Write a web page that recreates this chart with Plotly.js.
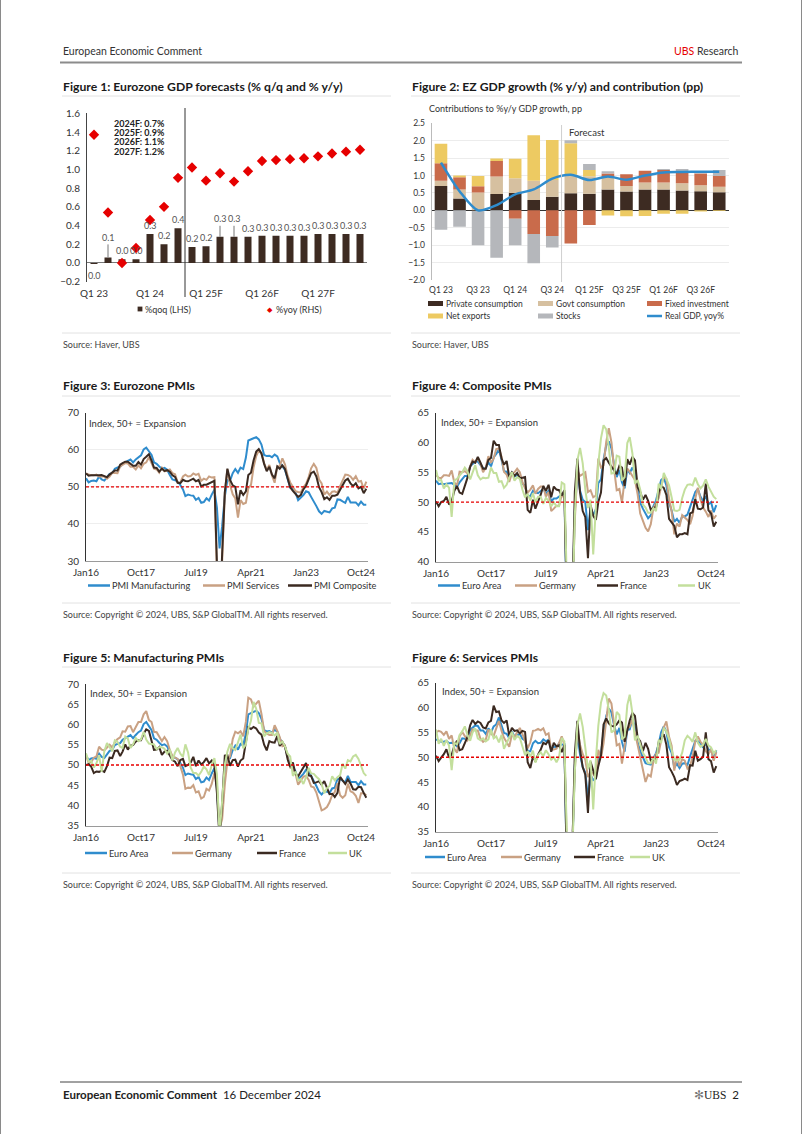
<!DOCTYPE html>
<html><head><meta charset="utf-8">
<script src="https://cdn.plot.ly/plotly-3.0.1.min.js"></script>
<style>html,body{margin:0;padding:0;background:#fff;}#page{width:802px;height:1134px;}</style>
</head><body><div id="page"></div>
<script>
// ================= DATA =================
// Figure 1
const gdpQuarters = ['Q1 23','Q2 23','Q3 23','Q4 23','Q1 24','Q2 24','Q3 24','Q4 24F','Q1 25F','Q2 25F','Q3 25F','Q4 25F','Q1 26F','Q2 26F','Q3 26F','Q4 26F','Q1 27F','Q2 27F','Q3 27F','Q4 27F'];
const gdpQoQ = [-0.01,0.06,0.04,0.04,0.31,0.20,0.37,0.17,0.18,0.28,0.28,0.28,0.29,0.29,0.29,0.29,0.31,0.31,0.31,0.31];
const gdpYoY = [1.37,0.54,0.00,0.16,0.46,0.60,0.91,1.02,0.88,0.96,0.87,0.98,1.09,1.10,1.11,1.12,1.14,1.17,1.19,1.21];
const gdpTicks = ['Q1 23','Q1 24','Q1 25F','Q1 26F','Q1 27F'];
const annualForecasts = ['2024F: 0.7%','2025F: 0.9%','2026F: 1.1%','2027F: 1.2%'];

// Figure 2
const contribQuarters = ['Q1 23','Q2 23','Q3 23','Q4 23','Q1 24','Q2 24','Q3 24','Q4 24','Q1 25F','Q2 25F','Q3 25F','Q4 25F','Q1 26F','Q2 26F','Q3 26F','Q4 26F'];
const contribTicks = ['Q1 23','Q3 23','Q1 24','Q3 24','Q1 25F','Q3 25F','Q1 26F','Q3 26F'];
const privCons = [0.70,0.34,-0.02,0.47,0.50,0.30,0.39,0.49,0.48,0.60,0.54,0.60,0.60,0.57,0.55,0.52];
const govtCons = [0.15,0.26,0.51,0.50,0.42,0.55,0.48,0.53,0.50,0.34,0.16,0.20,0.20,0.21,0.17,0.16];
const fixedInv = [0.50,0.35,0.18,0.45,-0.24,-0.68,-0.74,-0.95,-0.42,0.12,0.34,0.34,0.36,0.33,0.34,0.31];
const netExports = [0.56,0.05,0.30,0.07,0.56,1.31,1.15,0.91,0.18,-0.15,-0.17,-0.16,-0.10,-0.10,-0.03,-0.02];
const stocks = [-0.56,-0.47,-0.98,-1.36,-0.76,-0.84,-0.33,0.08,0.17,0.06,0.00,0.00,0.03,0.08,0.06,0.17];
const realGdpYoY = [1.37,0.55,0.00,0.15,0.46,0.60,0.91,1.02,0.87,0.97,0.88,1.00,1.09,1.10,1.11,1.11];

// PMIs (monthly, Jan 2016 - Dec 2024)
const pmiTickVals = ['2016-01-01','2017-10-01','2019-07-01','2021-04-01','2023-01-01','2024-10-01'];
const pmiTickText = ['Jan16','Oct17','Jul19','Apr21','Jan23','Oct24'];

const ezMfg = [52.3,51.2,51.6,51.7,51.5,52.8,52.0,51.7,52.6,53.5,53.7,54.9,
 55.2,55.4,56.2,56.7,57.0,57.4,56.6,57.4,58.1,58.5,60.1,60.6,
 59.6,58.6,56.6,56.2,55.5,54.9,55.1,54.6,53.2,52.0,51.8,51.4,
 50.5,49.3,47.5,47.9,47.7,47.6,46.5,47.0,45.7,45.9,46.9,46.3,
 47.9,49.2,44.5,33.4,39.4,47.4,51.8,51.7,53.7,54.8,53.8,55.2,
 54.8,57.9,62.5,62.9,63.1,63.4,62.8,61.4,58.6,58.3,58.4,58.0,
 58.7,58.2,56.5,55.5,54.6,52.1,49.8,49.6,48.4,46.4,47.1,47.8,
 48.8,48.5,47.3,45.8,44.8,43.4,42.7,43.5,43.4,43.1,44.2,44.4,
 46.6,46.5,46.1,45.7,47.3,45.8,45.8,45.8,45.0,46.0,45.2,45.2];
const ezServ = [53.6,53.3,53.1,53.1,53.3,52.8,52.9,52.8,52.2,52.8,53.8,53.7,
 53.7,55.5,56.0,56.4,56.3,55.4,55.4,54.7,55.8,55.0,56.2,56.6,
 58.0,56.2,54.9,54.7,53.8,55.2,54.2,54.4,54.7,53.7,53.4,51.2,
 51.2,52.8,53.3,52.8,52.9,53.6,53.2,53.5,51.6,52.2,51.9,52.8,
 52.5,52.6,26.4,12.0,30.5,48.3,54.7,50.5,48.0,46.9,41.7,46.4,
 45.4,45.7,49.6,50.5,55.2,58.3,59.8,59.0,56.4,54.6,55.9,53.1,
 51.1,55.5,55.6,57.7,56.1,53.0,51.2,49.8,48.8,48.6,48.5,49.8,
 50.8,52.7,55.0,56.2,55.1,52.0,50.9,47.9,48.7,47.8,48.7,48.8,
 48.4,50.2,51.5,53.3,53.2,52.8,51.9,52.9,51.4,51.6,49.5,51.4];
const ezComp = [53.6,53.0,53.1,53.0,53.1,53.1,53.2,52.9,52.6,53.3,53.9,54.4,
 54.4,56.0,56.4,56.8,56.8,56.3,55.7,55.7,56.7,56.0,57.5,58.1,
 58.8,57.1,55.2,55.1,54.1,54.9,54.3,54.5,54.1,53.1,52.7,51.1,
 51.0,51.9,51.6,51.5,51.8,52.2,51.5,51.9,50.1,50.6,50.6,50.9,
 51.3,51.6,29.7,13.6,31.9,48.5,54.9,51.9,50.4,50.0,45.3,49.1,
 47.8,48.8,53.2,53.8,57.1,59.5,60.2,59.0,56.2,54.2,55.4,53.3,
 52.3,55.5,54.9,55.8,54.8,52.0,49.9,48.9,48.1,47.3,47.8,49.3,
 50.3,52.0,53.7,54.1,52.8,49.9,48.6,46.7,47.2,46.5,47.6,47.6,
 47.9,49.2,50.3,51.7,52.2,50.9,50.2,51.0,49.6,50.0,48.3,49.5];
const deComp = [54.5,54.1,54.0,54.5,54.5,54.4,55.3,53.3,52.8,55.1,55.0,55.2,
 54.8,56.1,57.1,56.7,57.4,56.4,55.0,55.8,57.7,56.6,57.3,58.9,
 59.0,57.6,55.1,54.6,53.4,54.8,55.0,55.6,55.0,53.4,52.3,51.6,
 52.1,52.8,51.4,52.2,52.6,52.6,50.9,51.7,48.5,48.9,49.4,49.4,
 51.2,50.7,35.0,17.4,32.3,47.0,55.3,54.4,54.7,55.0,51.7,52.0,
 50.8,51.1,57.3,55.8,56.2,60.1,62.4,60.0,55.5,52.0,52.2,49.9,
 53.8,55.6,55.1,54.3,53.7,51.3,48.1,46.9,45.7,45.1,46.3,49.0,
 49.9,50.7,52.6,54.2,53.9,50.6,48.5,44.6,46.4,45.9,47.8,47.4,
 47.0,46.3,47.7,50.6,52.4,50.4,49.1,48.4,47.5,48.6,47.2,47.8];
const frComp = [50.1,49.3,50.0,50.2,50.9,49.6,50.1,51.9,52.7,51.6,51.4,52.7,
 54.1,55.9,56.8,56.6,57.6,56.6,55.6,55.6,57.1,57.4,60.3,59.6,
 59.6,57.3,56.3,56.9,54.2,55.0,54.4,54.9,54.0,54.1,54.2,48.7,
 48.2,50.4,48.9,50.1,51.2,52.7,51.9,52.9,50.8,52.6,52.1,52.0,
 51.1,52.0,28.9,11.1,32.1,51.7,57.3,51.6,48.5,47.5,40.6,49.5,
 47.7,47.0,50.0,51.6,57.0,57.4,56.6,55.9,55.3,54.7,56.1,55.8,
 52.7,57.2,56.3,57.6,57.0,52.5,51.7,50.4,51.2,50.2,48.7,49.1,
 49.1,51.7,52.7,52.4,51.2,47.2,46.6,46.0,44.1,44.6,44.6,44.8,
 44.6,48.1,48.3,50.5,48.9,48.8,49.1,53.1,48.6,48.1,45.9,46.7];
const ukComp = [55.4,53.6,53.7,52.3,53.0,52.4,47.5,53.6,53.9,54.4,55.0,55.8,
 55.2,53.8,54.9,56.2,54.5,53.8,54.1,54.0,54.1,55.8,54.9,54.9,
 53.4,53.5,52.4,52.9,54.1,55.0,53.6,54.2,53.9,52.1,50.8,51.4,
 50.3,51.5,50.0,50.9,50.9,49.7,50.7,50.2,49.3,50.0,49.3,49.3,
 53.3,53.0,36.0,13.8,30.0,47.7,57.0,59.1,56.5,52.1,49.0,50.4,
 41.2,49.6,56.4,60.7,62.9,62.2,59.2,54.8,54.9,57.8,57.6,53.6,
 54.2,59.9,60.9,58.2,53.1,53.7,52.1,49.6,49.1,48.2,48.2,49.0,
 48.5,53.1,52.2,54.9,54.0,52.8,50.8,48.6,48.5,48.7,50.7,52.1,
 52.9,53.0,52.8,54.1,53.0,52.3,52.8,53.8,52.6,51.8,50.9,50.5];
const deMfg = [52.3,50.5,50.7,51.8,52.1,54.5,53.8,53.6,54.3,55.0,54.3,55.6,
 56.4,56.8,58.3,58.2,59.5,59.6,58.1,59.3,60.6,60.6,62.5,63.3,
 61.1,60.6,58.2,58.1,56.9,55.9,56.9,55.9,53.7,52.2,51.8,51.5,
 49.7,47.6,44.1,44.4,44.3,45.0,43.2,43.5,41.7,42.1,44.1,43.7,
 45.3,48.0,45.4,34.5,36.6,45.2,51.0,52.2,56.4,58.2,57.8,58.3,
 57.1,60.7,66.6,66.2,64.4,65.1,65.9,62.6,58.4,57.8,57.4,57.4,
 59.8,58.4,56.9,54.6,54.8,52.0,49.3,49.1,47.8,45.1,46.2,47.1,
 47.3,46.3,44.7,44.5,43.2,40.6,38.8,39.1,39.6,40.8,42.6,43.3,
 45.5,42.5,41.9,42.5,45.4,43.5,43.2,42.4,40.6,43.0,43.0,42.5];
const frMfg = [50.0,50.2,49.6,48.0,48.4,48.3,48.6,48.3,49.7,51.8,51.7,53.5,
 53.6,52.2,53.3,55.1,53.8,54.8,54.9,55.8,56.1,56.1,57.7,58.8,
 58.4,55.9,53.7,53.8,54.4,52.5,53.3,53.5,52.5,51.2,50.8,49.7,
 51.2,51.5,49.7,50.0,50.6,52.0,49.7,51.1,50.1,50.7,51.7,50.4,
 51.1,49.8,43.2,31.5,40.6,52.3,52.4,49.8,51.2,51.3,49.6,51.1,
 51.6,56.1,59.3,58.9,59.4,59.0,58.0,57.5,55.0,53.6,55.9,55.6,
 55.5,57.2,54.7,55.7,54.6,51.4,49.5,50.6,47.7,47.2,48.3,49.2,
 50.5,47.4,47.3,45.6,45.7,46.0,45.1,46.0,44.2,42.8,42.9,42.1,
 43.1,47.1,46.2,45.3,46.4,45.4,44.0,43.9,44.6,44.5,43.1,41.9];
const ukMfg = [52.9,50.8,51.0,49.4,50.4,52.4,48.3,53.4,55.4,54.3,53.4,56.1,
 55.7,54.5,54.2,57.0,56.5,54.2,55.1,56.7,55.9,56.3,58.2,56.3,
 55.3,55.2,55.1,53.9,54.4,54.4,54.0,52.8,53.8,51.1,53.1,54.2,
 52.8,52.0,55.1,53.1,49.4,48.0,48.0,47.4,48.3,49.6,48.9,47.5,
 50.0,51.7,47.8,32.6,40.7,50.1,53.3,55.2,54.1,53.7,55.6,57.5,
 54.1,55.1,58.9,60.9,65.6,63.9,60.4,60.3,57.1,57.8,58.1,57.9,
 57.3,58.0,55.2,55.8,54.6,52.8,52.1,47.3,48.4,46.2,46.5,45.3,
 47.0,49.3,47.9,47.8,47.1,46.5,45.3,43.0,44.3,44.8,47.2,46.2,
 47.0,47.5,50.3,49.1,51.2,50.9,52.1,52.5,51.5,49.9,48.0,47.3];
const deServ = [55.0,55.3,55.1,54.5,55.2,53.7,54.4,51.7,50.9,54.2,55.1,54.3,
 53.4,54.4,55.6,55.4,55.4,53.7,53.1,53.5,55.6,54.7,54.3,55.8,
 57.3,55.3,53.9,53.0,52.1,54.5,54.1,55.0,55.9,54.7,53.3,51.8,
 53.0,55.3,55.4,55.7,55.4,55.8,54.5,54.8,51.4,51.6,51.7,52.9,
 54.2,52.5,31.7,16.2,32.6,47.3,55.6,52.5,50.6,49.5,46.0,47.0,
 46.7,45.7,51.5,49.9,52.8,57.5,61.8,60.8,56.2,52.4,52.7,48.7,
 52.2,55.8,56.1,57.6,55.0,52.4,49.7,47.7,45.0,46.5,46.1,49.2,
 50.7,50.9,53.7,56.0,57.2,54.1,52.3,47.3,50.3,48.2,49.6,49.3,
 47.7,48.3,50.1,53.2,54.2,53.1,52.5,51.2,50.6,51.6,49.3,51.0];
const frServ = [50.3,49.2,49.9,50.6,51.6,49.9,50.5,52.3,53.3,51.4,51.6,52.9,
 54.1,56.4,57.5,56.7,57.2,56.9,56.0,55.8,57.0,57.3,60.4,59.1,
 59.2,57.4,56.9,57.4,54.3,55.9,55.3,55.4,54.8,55.3,55.1,49.0,
 47.8,50.2,49.1,50.5,51.5,52.9,52.6,53.4,51.1,52.9,52.2,52.4,
 51.0,52.5,27.4,10.2,31.1,50.7,57.3,51.5,48.0,46.5,38.8,49.1,
 47.3,45.6,48.2,50.3,56.6,57.8,56.8,56.3,56.2,56.6,57.4,57.0,
 53.1,55.5,57.4,58.9,58.3,53.9,53.2,51.2,52.9,51.7,49.3,49.5,
 49.4,53.1,53.9,54.6,52.5,48.0,47.1,46.0,44.4,45.2,45.4,45.7,
 45.4,48.4,48.3,51.3,49.3,49.6,50.1,55.0,49.6,49.2,46.9,48.2];
const ukServ = [55.6,52.7,53.7,52.3,53.5,52.3,47.4,52.9,52.6,54.5,55.2,56.2,
 54.5,53.3,55.0,55.8,53.8,53.4,53.8,53.2,53.6,55.6,53.8,54.2,
 53.0,54.5,51.7,52.8,54.0,55.1,53.5,54.3,53.9,52.2,50.4,51.2,
 50.1,51.3,48.9,50.4,51.0,50.2,51.4,50.6,49.5,50.0,49.0,50.0,
 53.9,53.2,34.5,13.4,29.0,47.1,56.5,58.8,56.1,51.4,47.6,49.4,
 39.5,49.5,56.3,61.0,62.9,62.4,59.6,55.0,55.4,59.1,58.5,53.6,
 54.1,60.5,62.6,58.9,53.4,54.3,52.6,50.9,50.0,48.8,48.8,49.9,
 48.7,53.5,52.9,55.9,55.2,53.7,51.5,49.5,49.3,49.5,50.9,53.4,
 54.3,53.8,53.1,55.0,52.9,52.1,52.5,53.7,52.4,52.0,50.8,51.4];

// ================= HELPERS =================
const W = 802, H = 1134;
const X = p => p / W;
const Y = p => 1 - p / H;
const FONT = 'Lato, "Open Sans", sans-serif';
const NARROW = '"Liberation Sans Narrow", "Arial Narrow", Lato, sans-serif';
const INK = '#2b2b2b';
const C_BLUE = '#2f8ccd', C_TAN = '#c9a183', C_DARK = '#3b2a21', C_GREEN = '#c3df9c', C_RED = '#e60000';
const C_PRIV = '#3d2b22', C_GOVT = '#d6c0a0', C_FIXED = '#c96b4b', C_NETX = '#edca62', C_STOCK = '#b5b7bb';

// monthly date labels for the PMI x axis
const months = [];
for (let i = 0; i < ezMfg.length; i++) {
  const yr = 2016 + Math.floor(i / 12), m = (i % 12) + 1;
  months.push(yr + '-' + String(m).padStart(2, '0') + '-01');
}

const annotations = [];
const shapes = [];
function txt(x, y, text, size, opts) {
  opts = opts || {};
  annotations.push({xref:'paper', yref:'paper', x:X(x), y:Y(y), text:text, showarrow:false,
    xanchor: opts.xa || 'left', yanchor:'middle', borderpad:0,
    font:{family: opts.family || FONT, size:size, color: opts.color || INK}});
}
function hline(x0, x1, y, color, width) {
  shapes.push({type:'line', xref:'paper', yref:'paper', x0:X(x0), x1:X(x1), y0:Y(y), y1:Y(y), line:{color:color, width:width}});
}
function vline(x, y0, y1, color, width) {
  shapes.push({type:'line', xref:'paper', yref:'paper', x0:X(x), x1:X(x), y0:Y(y0), y1:Y(y1), line:{color:color, width:width}});
}
function legRect(x0, x1, y, h, color) {
  shapes.push({type:'rect', xref:'paper', yref:'paper', x0:X(x0), x1:X(x1), y0:Y(y + h/2), y1:Y(y - h/2), line:{width:0}, fillcolor:color});
}
function legLine(x0, x1, y, color, w) { hline(x0, x1, y, color, w); }

// ================= PAGE FURNITURE =================
vline(0.5, 0, H, '#8a8a8a', 1);
vline(801.5, 0, H, '#8a8a8a', 1);
txt(62, 51, 'European Economic Comment', 10.5, {family: NARROW, color:'#333'});
txt(740, 51, '<span style="color:#e60000">UBS</span> Research', 10.5, {family: NARROW, color:'#333', xa:'right'});
hline(60, 742, 62.5, '#8c8c8c', 2);
hline(60, 742, 1082, '#444', 1);
txt(62, 1094, '<b>European Economic Comment</b>  16 December 2024', 11.5, {family: NARROW, color:'#222'});
txt(740, 1094, '<span style="color:#777">✻</span><span style="font-family:Liberation Serif,serif">UBS</span>  2', 11.5, {family: NARROW, color:'#222', xa:'right'});

const titles = [
  [62, 86, 'Figure 1: Eurozone GDP forecasts (% q/q and % y/y)'],
  [411, 86, 'Figure 2: EZ GDP growth (% y/y) and contribution (pp)'],
  [62, 386, 'Figure 3: Eurozone PMIs'],
  [411, 386, 'Figure 4: Composite PMIs'],
  [62, 657, 'Figure 5: Manufacturing PMIs'],
  [411, 657, 'Figure 6: Services PMIs']
];
titles.forEach(t => txt(t[0], t[1], '<b>' + t[2] + '</b>', 12.2, {color:'#1a1a1a'}));
[[96, 333, 344], [396, 603, 614], [667, 873, 884]].forEach(r => {
  hline(62, 391, r[0], '#e2e2e2', 1); hline(411, 740, r[0], '#e2e2e2', 1);
  hline(62, 391, r[1], '#e2e2e2', 1); hline(411, 740, r[1], '#e2e2e2', 1);
});
const srcHaver = 'Source: Haver, UBS';
const srcSP = 'Source: Copyright © 2024, UBS, S&amp;P GlobalTM. All rights reserved.';
txt(62, 344, srcHaver, 9, {color:'#444'}); txt(411, 344, srcHaver, 9, {color:'#444'});
txt(62, 614, srcSP, 9, {color:'#444'}); txt(411, 614, srcSP, 9, {color:'#444'});
txt(62, 884, srcSP, 9, {color:'#444'}); txt(411, 884, srcSP, 9, {color:'#444'});

// ================= FIGURE 1 =================
const fmt1 = v => { let s = v.toFixed(1); return s === '-0.0' ? '0.0' : s; };
const leaderLift = {'Q2 23': -20, 'Q2 25F': -18, 'Q3 25F': -18};
gdpQuarters.forEach((q, i) => {
  const v = gdpQoQ[i];
  const a = {xref:'x', yref:'y', x:q, y:v, text:fmt1(v), font:{family:FONT, size:9, color:'#555'}};
  if (leaderLift[q]) {
    Object.assign(a, {showarrow:true, arrowhead:0, arrowwidth:1, arrowcolor:'#777', ax:0, ay:leaderLift[q], standoff:0});
  } else {
    Object.assign(a, {showarrow:false, yanchor: v < 0 ? 'top' : 'bottom', yshift: v < 0 ? -4 : 1});
  }
  annotations.push(a);
});
annualForecasts.forEach((t, i) => txt(113, 123.5 + i * 9.2, '<b>' + t + '</b>', 9, {color:'#222'}));
shapes.push({type:'line', xref:'x', yref:'paper', x0:6.5, x1:6.5, y0:Y(297), y1:Y(108), line:{color:'#333', width:1}});
legRect(137.6, 142.4, 309, 4.8, C_PRIV);
txt(144, 309, '%qoq (LHS)', 9, {color:'#333'});
txt(270.3, 309, '◆', 7, {color:C_RED, xa:'center'});
txt(275, 309, '%yoy (RHS)', 9, {color:'#333'});

// ================= FIGURE 2 =================
txt(427.5, 108.5, 'Contributions to %y/y GDP growth, pp', 9, {color:'#333'});
shapes.push({type:'line', xref:'x2', yref:'paper', x0:6.5, x1:6.5, y0:Y(282), y1:Y(125), line:{color:'#cfcfcf', width:1}});
txt(568, 133, 'Forecast', 9.5, {color:'#333'});
const leg2 = [
  ['rect', C_PRIV, 428, 443, 303.5, 'Private consumption', 445],
  ['rect', C_GOVT, 538, 553, 303.5, 'Govt consumption', 555],
  ['rect', C_FIXED, 647, 662, 303.5, 'Fixed investment', 664],
  ['rect', C_NETX, 428, 443, 316, 'Net exports', 445],
  ['rect', C_STOCK, 538, 553, 316, 'Stocks', 555],
  ['line', '#2f8ccd', 647, 662, 316, 'Real GDP, yoy%', 664]
];
leg2.forEach(l => {
  if (l[0] === 'rect') legRect(l[2], l[3], l[4], 5, l[1]); else legLine(l[2], l[3], l[4], l[1], 2.5);
  txt(l[6], l[4], l[5], 8.5, {color:'#333'});
});

// ================= PMI FIGURES =================
function pmiLegend(y, items) {
  items.forEach(it => { legLine(it[0], it[1], y, it[2], 2.5); txt(it[3], y, it[4], 9.2, {color:'#333'}); });
}
txt(88, 423.5, 'Index, 50+ = Expansion', 9.5, {color:'#333'});
txt(440, 422, 'Index, 50+ = Expansion', 9.5, {color:'#333'});
txt(88.5, 693.5, 'Index, 50+ = Expansion', 9.5, {color:'#333'});
txt(441, 691.5, 'Index, 50+ = Expansion', 9.5, {color:'#333'});
pmiLegend(585.5, [[88,110,C_BLUE,111,'PMI Manufacturing'],[203,225,C_TAN,226,'PMI Services'],[288,312,C_DARK,313,'PMI Composite']]);
pmiLegend(585.5, [[438,460,C_BLUE,461,'Euro Area'],[515,537,C_TAN,538,'Germany'],[597,618,C_DARK,619,'France'],[678,695,C_GREEN,697,'UK']]);
pmiLegend(853, [[85,107,C_BLUE,108,'Euro Area'],[172,193,C_TAN,194,'Germany'],[257,277,C_DARK,278,'France'],[328,347,C_GREEN,348,'UK']]);
pmiLegend(857, [[425,445,C_BLUE,446,'Euro Area'],[501,522,C_TAN,523,'Germany'],[574,595,C_DARK,596,'France'],[630,650,C_GREEN,651,'UK']]);

[['x3','y4'],['x4','y5'],['x5','y6'],['x6','y7']].forEach(a => {
  shapes.push({type:'line', xref:a[0] + ' domain', yref:a[1], x0:0, x1:1, y0:50, y1:50, layer:'above',
    line:{color:C_RED, width:1.4, dash:'3px,2px'}});
});

// ================= TRACES =================
const traces = [];
traces.push({type:'bar', x:gdpQuarters, y:gdpQoQ, xaxis:'x', yaxis:'y', width:0.5, marker:{color:C_PRIV}, name:'%qoq (LHS)', hoverinfo:'skip'});
traces.push({type:'scatter', mode:'markers', x:gdpQuarters, y:gdpYoY, xaxis:'x', yaxis:'y2', name:'%yoy (RHS)',
  marker:{symbol:'diamond', size:8, color:C_RED}, hoverinfo:'skip'});

[[privCons,C_PRIV,'Private consumption'],[govtCons,C_GOVT,'Govt consumption'],[fixedInv,C_FIXED,'Fixed investment'],
 [netExports,C_NETX,'Net exports'],[stocks,C_STOCK,'Stocks']].forEach(s => {
  traces.push({type:'bar', x:contribQuarters, y:s[0], xaxis:'x2', yaxis:'y3', width:0.68, marker:{color:s[1], line:{width:0}}, name:s[2], hoverinfo:'skip'});
});
traces.push({type:'scatter', mode:'lines', x:contribQuarters, y:realGdpYoY, xaxis:'x2', yaxis:'y3', name:'Real GDP, yoy%',
  line:{color:'#2f8ccd', width:2.5, shape:'spline', smoothing:0.8}, hoverinfo:'skip'});

function pmi(y, color, xa, ya, name) {
  traces.push({type:'scatter', mode:'lines', x:months, y:y, xaxis:xa, yaxis:ya, name:name, line:{color:color, width:2}, hoverinfo:'skip'});
}
pmi(ezMfg, C_BLUE, 'x3', 'y4', 'PMI Manufacturing');
pmi(ezServ, C_TAN, 'x3', 'y4', 'PMI Services');
pmi(ezComp, C_DARK, 'x3', 'y4', 'PMI Composite');
pmi(ezComp, C_BLUE, 'x4', 'y5', 'Euro Area'); pmi(deComp, C_TAN, 'x4', 'y5', 'Germany');
pmi(frComp, C_DARK, 'x4', 'y5', 'France'); pmi(ukComp, C_GREEN, 'x4', 'y5', 'UK');
pmi(ezMfg, C_BLUE, 'x5', 'y6', 'Euro Area'); pmi(deMfg, C_TAN, 'x5', 'y6', 'Germany');
pmi(frMfg, C_DARK, 'x5', 'y6', 'France'); pmi(ukMfg, C_GREEN, 'x5', 'y6', 'UK');
pmi(ezServ, C_BLUE, 'x6', 'y7', 'Euro Area'); pmi(deServ, C_TAN, 'x6', 'y7', 'Germany');
pmi(frServ, C_DARK, 'x6', 'y7', 'France'); pmi(ukServ, C_GREEN, 'x6', 'y7', 'UK');

// ================= AXES =================
const tickF = s => ({family:FONT, size:s, color:'#333'});
function pmiX(anchor, x0, x1) {
  return {domain:[X(x0), X(x1)], anchor:anchor, type:'date', range:['2016-01-01','2024-12-21'],
    tickvals:pmiTickVals, ticktext:pmiTickText, tickfont:tickF(10), showgrid:false, zeroline:false,
    showline:true, linecolor:'#9a9a9a', linewidth:1, ticks:'', ticklabelstandoff:2, fixedrange:true};
}
function pmiY(anchor, top, bot, range, dtick, grid) {
  return {domain:[Y(bot), Y(top)], anchor:anchor, range:range, dtick:dtick, tickfont:tickF(10),
    showgrid:!!grid, gridcolor:'#eeeeee', zeroline:false, showline:true, linecolor:'#333', linewidth:1,
    ticks:'', ticklabelstandoff:4, fixedrange:true};
}

const layout = {
  width:W, height:H, margin:{l:0, r:0, t:0, b:0, pad:0}, showlegend:false,
  paper_bgcolor:'#fff', plot_bgcolor:'rgba(0,0,0,0)', barmode:'relative', font:{family:FONT, color:INK},
  xaxis:{domain:[X(87), X(367)], anchor:'y', type:'category', range:[-0.5, 19.5], tickvals:gdpTicks, ticktext:gdpTicks,
    tickfont:tickF(10), showgrid:false, zeroline:false, showline:false, ticks:'', ticklabelstandoff:4, fixedrange:true},
  yaxis:{domain:[Y(281.7), Y(113.3)], anchor:'x', range:[-0.2, 1.6], dtick:0.2, tickformat:'.1f', tickfont:tickF(10),
    showgrid:false, zeroline:true, zerolinecolor:'#777', zerolinewidth:1, showline:true, linecolor:'#444', linewidth:1,
    ticks:'', ticklabelstandoff:4, fixedrange:true},
  yaxis2:{overlaying:'y', anchor:'x', side:'right', range:[-0.2, 1.6], visible:false, fixedrange:true},
  xaxis2:{domain:[X(431.7), X(728.5)], anchor:'y3', type:'category', range:[-0.5, 15.5], tickvals:contribTicks, ticktext:contribTicks,
    tickfont:tickF(8.5), showgrid:false, zeroline:false, showline:false, ticks:'', ticklabelstandoff:3, fixedrange:true},
  yaxis3:{domain:[Y(280), Y(123.3)], anchor:'x2', range:[-2, 2.5], dtick:0.5, tickformat:'.1f', tickfont:tickF(8.5),
    showgrid:true, gridcolor:'#ececec', zeroline:true, zerolinecolor:'#333', zerolinewidth:1, showline:true, linecolor:'#bbb',
    linewidth:1, ticks:'', ticklabelstandoff:4, fixedrange:true},
  xaxis3: pmiX('y4', 86, 368), yaxis4: pmiY('x3', 412.7, 561, [30, 70], 10, true),
  xaxis4: pmiX('y5', 436, 718), yaxis5: pmiY('x4', 412.7, 561.7, [40, 65], 5, false),
  xaxis5: pmiX('y6', 86, 368), yaxis6: pmiY('x5', 684, 825.7, [35, 70], 5, false),
  xaxis6: pmiX('y7', 436, 718), yaxis7: pmiY('x6', 682.7, 831.7, [35, 65], 5, false),
  annotations:annotations, shapes:shapes
};

Plotly.newPlot('page', traces, layout, {staticPlot:true, displayModeBar:false});
</script>
</body></html>
